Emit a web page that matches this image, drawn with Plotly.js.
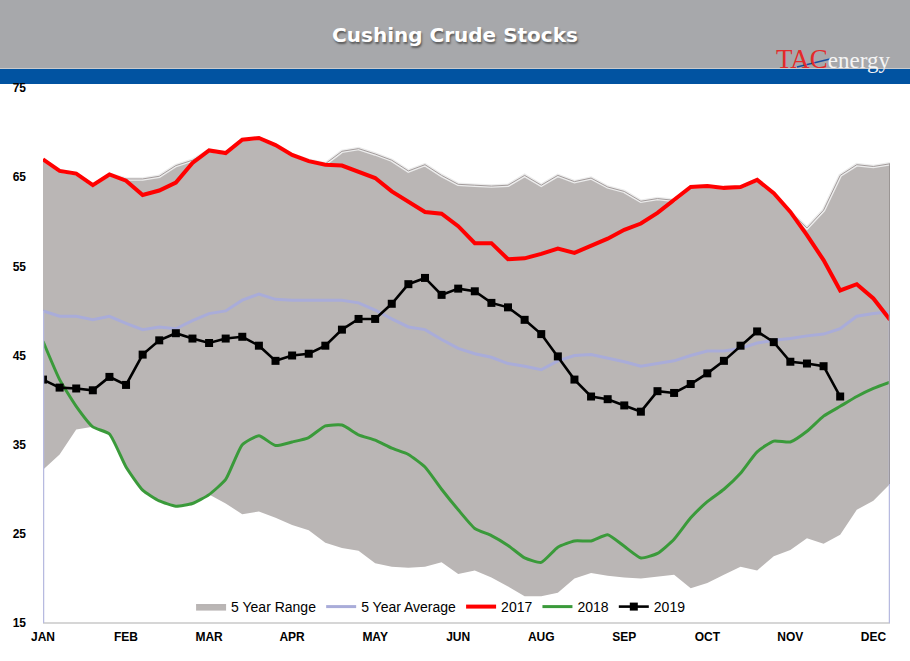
<!DOCTYPE html>
<html>
<head>
<meta charset="utf-8">
<script src="https://cdn.plot.ly/plotly-3.0.1.min.js"></script>
<style>
  html, body { margin: 0; padding: 0; background: #ffffff; }
  #chart { width: 910px; height: 661px; }
</style>
</head>
<body>
<div id="chart"></div>
<script>
// ---- data (week index 0..51) ----
const monthTickWeeks = [0, 5, 10, 15, 20, 25, 30, 35, 40, 45, 50];
const monthLabels = ["JAN", "FEB", "MAR", "APR", "MAY", "JUN", "AUG", "SEP", "OCT", "NOV", "DEC"];

const rangeMax = [67.0, 65.7, 65.4, 64.1, 65.3, 64.8, 64.8, 65.1, 66.3, 66.9,
  68.0, 67.7, 69.2, 69.4, 68.6, 67.5, 66.9, 66.5, 67.9, 68.2,
  67.6, 66.9, 65.7, 66.4, 65.2, 64.2, 64.1, 64.0, 64.1, 65.2,
  64.1, 65.2, 64.5, 64.9, 63.9, 63.4, 62.3, 62.6, 62.4, 63.9,
  64.0, 63.8, 63.9, 64.7, 63.2, 61.1, 59.3, 61.3, 65.2, 66.4,
  66.2, 66.5];

const rangeMin = [32.2, 33.9, 36.7, 37.0, 36.2, 32.5, 29.9, 28.7, 28.1, 28.4,
  29.4, 28.4, 27.2, 27.5, 26.8, 26.0, 25.4, 24.0, 23.4, 23.1,
  21.7, 21.3, 21.2, 21.3, 21.8, 20.5, 20.9, 20.1, 19.1, 18.0,
  18.0, 18.4, 20.0, 20.6, 20.3, 20.1, 20.0, 20.2, 20.4, 18.9,
  19.5, 20.4, 21.3, 20.9, 22.5, 23.2, 24.5, 23.9, 24.9, 27.7,
  28.7, 30.6];

const avg5 = [50.0, 49.4, 49.4, 49.0, 49.4, 48.6, 47.9, 48.2, 48.0, 48.9,
  49.7, 50.0, 51.2, 51.9, 51.3, 51.2, 51.2, 51.2, 51.2, 50.9,
  50.1, 49.1, 48.2, 47.9, 46.8, 45.8, 45.2, 44.8, 44.1, 43.8,
  43.4, 44.4, 45.0, 45.1, 44.7, 44.3, 43.8, 44.1, 44.4, 45.0,
  45.5, 45.5, 45.8, 46.4, 46.7, 46.9, 47.2, 47.4, 48.0, 49.4,
  49.7, 49.9];

const y2017 = [67.0, 65.7, 65.4, 64.1, 65.3, 64.6, 63.0, 63.5, 64.4, 66.6,
  68.0, 67.7, 69.2, 69.4, 68.6, 67.5, 66.8, 66.4, 66.3, 65.6,
  64.9, 63.4, 62.2, 61.1, 60.9, 59.5, 57.6, 57.6, 55.8, 55.9,
  56.4, 57.0, 56.5, 57.3, 58.1, 59.1, 59.8, 61.0, 62.4, 63.9,
  64.0, 63.8, 63.9, 64.7, 63.2, 61.1, 58.5, 55.7, 52.3, 53.0,
  51.4, 49.0];

const y2018 = [46.6, 42.3, 39.3, 37.0, 36.2, 32.5, 29.9, 28.7, 28.1, 28.4,
  29.4, 31.1, 35.0, 36.0, 34.9, 35.3, 35.8, 37.1, 37.2, 36.1,
  35.5, 34.6, 33.9, 32.5, 30.0, 27.7, 25.6, 24.8, 23.7, 22.3,
  21.8, 23.5, 24.2, 24.2, 24.9, 23.6, 22.3, 22.8, 24.4, 26.8,
  28.6, 30.0, 31.8, 34.2, 35.4, 35.3, 36.5, 38.2, 39.3, 40.4,
  41.3, 42.0];

const y2019 = [42.3, 41.4, 41.3, 41.1, 42.6, 41.7, 45.1, 46.7, 47.5, 46.9,
  46.4, 46.9, 47.1, 46.1, 44.4, 45.0, 45.2, 46.1, 47.9, 49.1,
  49.1, 50.8, 53.0, 53.7, 51.8, 52.5, 52.2, 50.9, 50.4, 49.0,
  47.4, 44.9, 42.3, 40.4, 40.1, 39.4, 38.7, 41.0, 40.8, 41.8,
  43.0, 44.4, 46.1, 47.7, 46.5, 44.3, 44.1, 43.8, 40.4];

const yTicks = [15, 25, 35, 45, 55, 65, 75];

const weeks = rangeMax.map((_, i) => i);
const weeks2019 = y2019.map((_, i) => i);
const lastWeek = weeks[weeks.length - 1];

// ---- geometry helpers (plot area: x 43..890, y 88..623) ----
const PL = 43, PR = 890, PT = 88, PB = 623;
const pw = PR - PL, ph = PB - PT;
const px = v => (v - PL) / pw;       // pixel x -> paper x
const py = v => (PB - v) / ph;       // pixel y -> paper y

const traces = [
  { x: weeks, y: rangeMin, type: 'scatter', mode: 'lines',
    line: { width: 0, color: 'rgba(0,0,0,0)' }, showlegend: false, hoverinfo: 'skip' },
  { x: weeks, y: rangeMax, type: 'scatter', mode: 'lines', name: '5 Year Range',
    fill: 'tonexty', fillcolor: '#bab6b5',
    line: { width: 0.8, color: '#a8a3a3' } },
  { x: weeks, y: rangeMax, type: 'scatter', mode: 'lines', showlegend: false, hoverinfo: 'skip',
    line: { width: 3.5, color: '#ececec' } },
  { x: weeks, y: rangeMax, type: 'scatter', mode: 'lines', showlegend: false, hoverinfo: 'skip',
    line: { width: 1, color: '#a39c9c' } },
  { x: weeks, y: avg5, type: 'scatter', mode: 'lines', name: '5 Year Average',
    line: { width: 3, color: '#a9acd9' } },
  { x: weeks, y: y2017, type: 'scatter', mode: 'lines', name: '2017',
    line: { width: 4, color: '#ff0000' } },
  { x: weeks, y: y2018, type: 'scatter', mode: 'lines', name: '2018',
    line: { width: 3, color: '#3a9a3a', shape: 'spline', smoothing: 0.5 } },
  { x: weeks2019, y: y2019, type: 'scatter', mode: 'lines+markers', name: '2019',
    line: { width: 2.6, color: '#000000' },
    marker: { symbol: 'square', size: 8, color: '#000000' } }
];

const layout = {
  width: 910, height: 661,
  margin: { l: PL, r: 910 - PR, t: PT, b: 661 - PB, pad: 0 },
  paper_bgcolor: '#ffffff', plot_bgcolor: '#ffffff',
  showlegend: true,
  title: {
    text: '<b>Cushing Crude Stocks</b>',
    x: 0.5, xref: 'container', xanchor: 'center',
    y: 1 - 35 / 661, yref: 'container', yanchor: 'middle',
    font: { family: 'DejaVu Sans, Liberation Sans, Arial, sans-serif', size: 20, color: '#ffffff',
            shadow: '1px 2px 2px #5a5a5a' }
  },
  xaxis: {
    range: [0, lastWeek], type: 'linear',
    tickmode: 'array', tickvals: monthTickWeeks, ticktext: monthLabels,
    showgrid: false, zeroline: false, showline: false, ticks: '',
    ticklabelstandoff: 5,
    tickfont: { family: 'Liberation Sans, Arial, sans-serif', size: 12, color: '#000000', weight: 'bold' },
    fixedrange: true
  },
  yaxis: {
    range: [15, 75], tickmode: 'array', tickvals: yTicks,
    showgrid: false, zeroline: false, showline: false, ticks: '',
    ticklabelstandoff: 16,
    tickfont: { family: 'Liberation Sans, Arial, sans-serif', size: 12, color: '#000000', weight: 'bold' },
    fixedrange: true
  },
  legend: {
    orientation: 'h', traceorder: 'normal',
    x: 0.47, xanchor: 'center', y: py(607), yanchor: 'middle',
    bgcolor: 'rgba(0,0,0,0)', itemwidth: 30, tracegroupgap: 0,
    font: { family: 'Liberation Sans, Arial, sans-serif', size: 14, color: '#000000' }
  },
  shapes: [
    // header bands
    { type: 'rect', xref: 'paper', yref: 'paper', x0: px(-2), x1: px(912), y0: py(69), y1: py(-2),
      fillcolor: '#a7a8ab', line: { width: 0 }, layer: 'below' },
    { type: 'rect', xref: 'paper', yref: 'paper', x0: px(-2), x1: px(912), y0: py(84), y1: py(69),
      fillcolor: '#0153a1', line: { width: 0 }, layer: 'below' },
    { type: 'line', xref: 'paper', yref: 'paper', x0: px(-2), x1: px(912), y0: py(68.5), y1: py(68.5),
      line: { width: 1, color: '#c9cacc' } },
    // x-axis baseline
    { type: 'line', xref: 'paper', yref: 'paper', x0: 0, x1: 1, y0: py(623), y1: py(623),
      line: { width: 2, color: '#d6d6d6' } },
    // average series edge drops
    { type: 'line', xref: 'x', yref: 'y', x0: 0, x1: 0, y0: avg5[0], y1: 15,
      line: { width: 2.5, color: '#b7bae0' } },
    { type: 'line', xref: 'x', yref: 'y', x0: lastWeek, x1: lastWeek, y0: avg5[lastWeek], y1: 15,
      line: { width: 2.5, color: '#b7bae0' } },
    // range right edge
    { type: 'line', xref: 'x', yref: 'y', x0: lastWeek, x1: lastWeek, y0: rangeMin[lastWeek], y1: rangeMax[lastWeek],
      line: { width: 1.5, color: '#8f8a8a' } },
    // logo swoosh
    { type: 'line', xref: 'paper', yref: 'paper', x0: px(797), x1: px(830), y0: py(67), y1: py(59),
      line: { width: 1.5, color: '#1a4fa0' } }
  ],
  annotations: [
    { xref: 'paper', yref: 'paper', x: px(774), y: py(59), xanchor: 'left', yanchor: 'middle',
      showarrow: false,
      text: '<span style="color:#e42a2a;font-size:27px">TAC</span><span style="color:#f4f4f4">energy</span>',
      font: { family: 'Liberation Serif, Times New Roman, serif', size: 23 } }
  ]
};

Plotly.newPlot('chart', traces, layout, { displayModeBar: false, staticPlot: true });
</script>
</body>
</html>
